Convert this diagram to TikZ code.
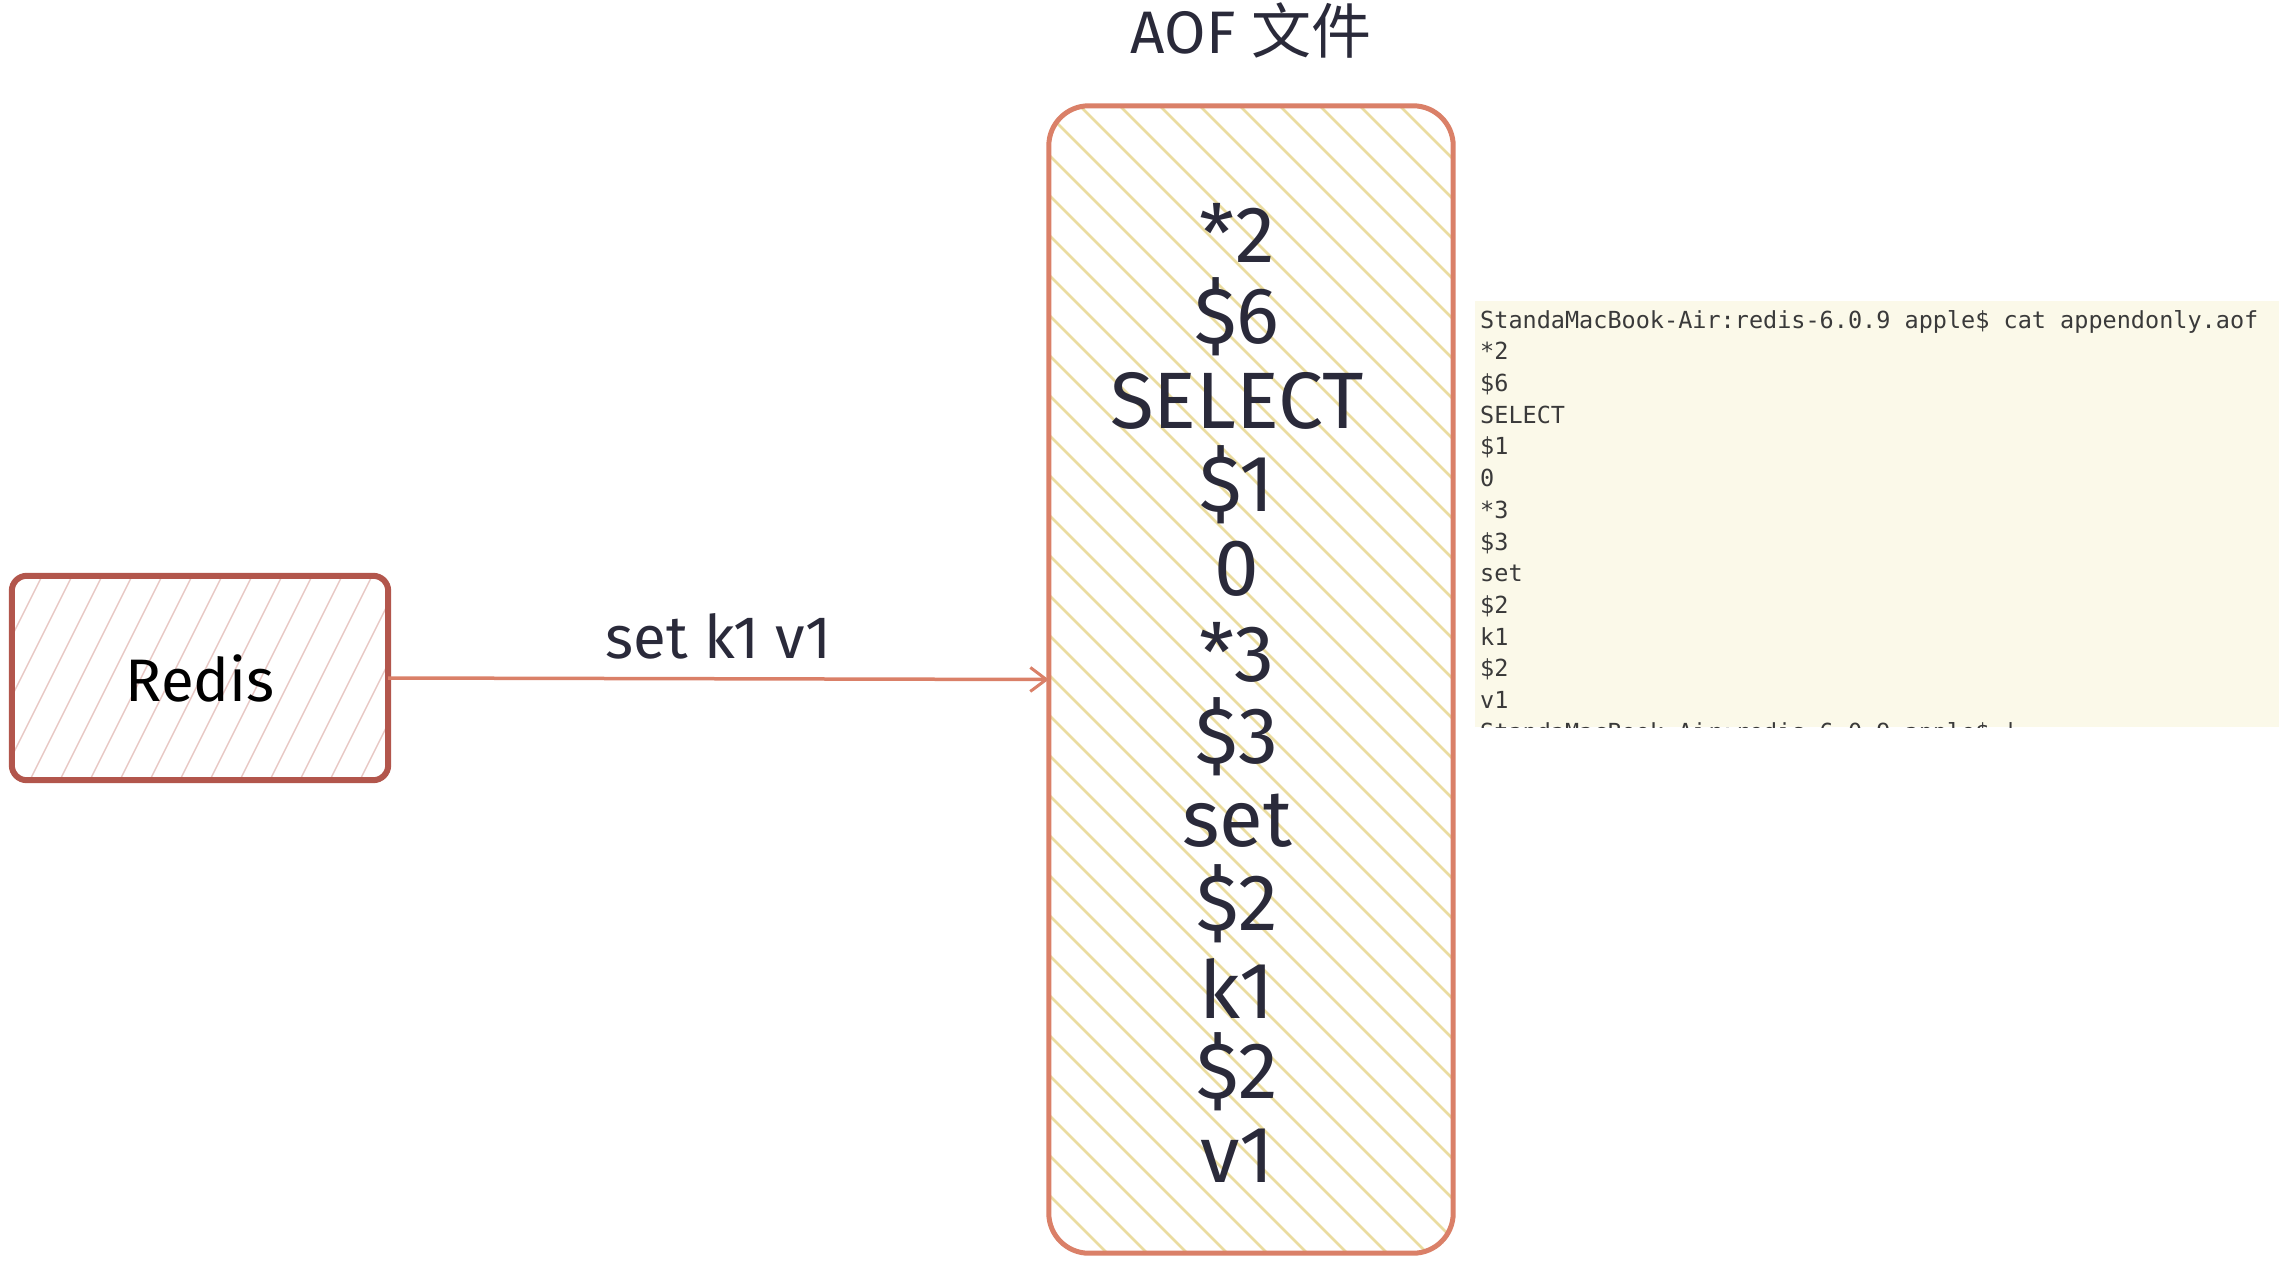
\documentclass[tikz,border=0pt]{standalone}
\usepackage{fontspec}
\setmainfont{Fira Sans}
\setmonofont{DejaVu Sans Mono}
\newfontfamily\cjk{Noto Sans CJK SC}
\usetikzlibrary{arrows.meta,positioning}
\definecolor{ink}{RGB}{42,42,58}
\definecolor{brick}{RGB}{178,86,76}
\definecolor{salmon}{RGB}{218,128,104}
\definecolor{rosehatch}{RGB}{232,200,196}
\definecolor{strawhatch}{RGB}{234,220,160}
\definecolor{cream}{RGB}{251,249,233}
\definecolor{termink}{RGB}{58,58,58}

\begin{document}
\begin{tikzpicture}[x=1pt,y=-1pt,
    big/.style={text=ink,font=\fontsize{60}{66}\selectfont},
    aofline/.style={text=ink,font=\fontsize{80}{80}\selectfont,inner sep=0pt}]
  \useasboundingbox (0,0) rectangle (2279,1280);

  % Redis box
  \node[minimum width=376pt,minimum height=204pt] (redis) at (200,678) {};
  \begin{scope}
    \clip[rounded corners=15pt] (redis.south west) rectangle (redis.north east);
    \foreach \x in {-90,-60,...,390}
      \draw[rosehatch,line width=1.5pt] (\x,780) -- ++(102,-204);
  \end{scope}
  \draw[brick,line width=6pt,rounded corners=15pt] (redis.south west) rectangle (redis.north east);
  \node[big,text=black] at (redis) {Redis};

  % AOF box
  \node[minimum width=404pt,minimum height=1147pt] (aof) at (1251,679.5) {};
  \begin{scope}
    \clip[rounded corners=40pt] (aof.south west) rectangle (aof.north east);
    \foreach \x in {-1120,-1080,...,1460}
      \draw[strawhatch,line width=2.5pt] (\x,106) -- ++(1150,1150);
  \end{scope}
  \draw[salmon,line width=5pt,rounded corners=40pt] (aof.south west) rectangle (aof.north east);
  \node[text=ink,font=\fontsize{60}{66}\selectfont,above=44pt of aof.north] (title) {AOF {\cjk 文件}};
  \foreach \t [count=\i] in {*2,\$6,SELECT,\$1,0,*3,\$3,set,\$2,k1,\$2,v1}
    \node[aofline] (line\i) at (1237,{233+83.9*(\i-1)}) {\t};

  % write command
  \draw[salmon,line width=3.5pt,-{Straight Barb[length=16pt,width=24pt,line width=3pt]}]
    (redis.east) -- (aof.west) node[big,midway,above=14pt] (cmd) {set k1 v1};

  % terminal output
  \node[fill=cream,minimum width=804pt,minimum height=426pt,inner sep=0pt] (term) at (1877,514) {};
  \begin{scope}
    \clip (term.south west) rectangle (term.north east);
    \node[text=termink,font=\ttfamily\fontsize{23.5}{31.7}\selectfont,align=left,anchor=north west,inner sep=0pt]
      (termtext) at (1480,310) {StandaMacBook-Air:redis-6.0.9 apple\$ cat appendonly.aof\\
      *2\\ \$6\\ SELECT\\ \$1\\ 0\\ *3\\ \$3\\ set\\ \$2\\ k1\\ \$2\\ v1\\
      StandaMacBook-Air:redis-6.0.9 apple\$ \textbar};
  \end{scope}
\end{tikzpicture}
\end{document}
